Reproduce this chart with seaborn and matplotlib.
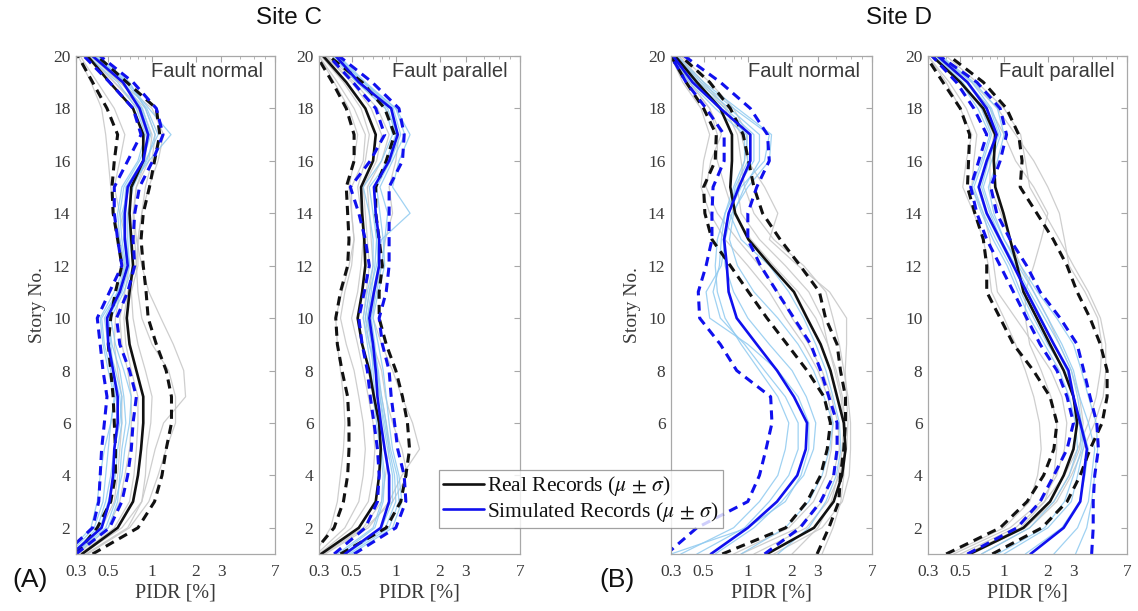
import numpy as np
import pandas as pd
import seaborn as sns
import matplotlib
matplotlib.use("Agg")
import matplotlib.pyplot as plt
from matplotlib.ticker import FixedLocator, FixedFormatter, NullFormatter, LogLocator
from matplotlib.lines import Line2D

# ---------------- data ----------------
STORIES = list(range(1, 21))
X_TICKS = [0.3, 0.5, 1, 2, 3, 7]
X_TICK_LABELS = ["0.3", "0.5", "1", "2", "3", "7"]
Y_TICKS = [2, 4, 6, 8, 10, 12, 14, 16, 18, 20]
SITE_TITLES = ["Site C", "Site D"]
PANEL_TITLES = ["Fault normal", "Fault parallel", "Fault normal", "Fault parallel"]
PANEL_LETTERS = ["(A)", "(B)"]
LEGEND_LABELS = [r"Real Records ($\mu$ $\pm$ $\sigma$)", r"Simulated Records ($\mu$ $\pm$ $\sigma$)"]

# Site C, fault normal (values listed from story 1 to story 20)
c_fn_real_mu = [0.33, 0.58, 0.74, 0.80, 0.84, 0.87, 0.87, 0.78, 0.70, 0.67, 0.70, 0.74, 0.72, 0.70, 0.72, 0.87, 0.87, 0.74, 0.51, 0.36]
c_fn_real_lo = [0.30, 0.42, 0.52, 0.56, 0.56, 0.55, 0.54, 0.52, 0.50, 0.52, 0.56, 0.62, 0.58, 0.54, 0.53, 0.55, 0.58, 0.49, 0.39, 0.31]
c_fn_real_hi = [0.39, 0.80, 1.04, 1.17, 1.25, 1.36, 1.36, 1.25, 1.07, 0.94, 0.91, 0.87, 0.84, 0.87, 0.96, 1.04, 1.13, 1.07, 0.67, 0.42]
c_fn_sim_mu = [0.28, 0.45, 0.51, 0.54, 0.55, 0.58, 0.58, 0.54, 0.50, 0.49, 0.60, 0.68, 0.65, 0.65, 0.68, 0.87, 0.94, 0.82, 0.63, 0.39]
c_fn_sim_lo = [0.25, 0.39, 0.43, 0.44, 0.45, 0.47, 0.49, 0.46, 0.44, 0.42, 0.51, 0.62, 0.58, 0.55, 0.55, 0.68, 0.84, 0.74, 0.51, 0.34]
c_fn_sim_hi = [0.30, 0.51, 0.62, 0.68, 0.72, 0.74, 0.78, 0.70, 0.60, 0.57, 0.68, 0.76, 0.74, 0.76, 0.82, 1.01, 1.19, 1.07, 0.74, 0.44]
c_fn_real_records = [
    [0.33, 0.62, 0.85, 0.95, 1.05, 1.20, 1.70, 1.65, 1.40, 1.15, 0.95, 0.85, 0.78, 0.75, 0.78, 0.95, 1.00, 0.85, 0.55, 0.36],
    [0.36, 0.70, 0.95, 1.10, 1.25, 1.45, 1.45, 1.30, 1.00, 0.85, 0.80, 0.78, 0.80, 0.85, 0.95, 1.10, 1.20, 1.00, 0.60, 0.38],
    [0.31, 0.50, 0.60, 0.65, 0.70, 0.72, 0.72, 0.68, 0.62, 0.60, 0.65, 0.70, 0.66, 0.60, 0.55, 0.60, 0.65, 0.55, 0.42, 0.32],
    [0.32, 0.55, 0.70, 0.75, 0.78, 0.80, 0.80, 0.72, 0.66, 0.64, 0.68, 0.78, 0.76, 0.74, 0.78, 0.90, 0.92, 0.80, 0.55, 0.37],
    [0.30, 0.45, 0.55, 0.58, 0.60, 0.62, 0.62, 0.58, 0.55, 0.56, 0.60, 0.64, 0.60, 0.55, 0.52, 0.50, 0.48, 0.45, 0.38, 0.31],
    [0.35, 0.68, 0.85, 0.90, 0.92, 0.98, 1.00, 0.90, 0.80, 0.74, 0.72, 0.80, 0.80, 0.85, 0.90, 1.00, 1.05, 0.90, 0.60, 0.38],
]
c_fn_sim_records = [
    [0.28, 0.42, 0.48, 0.52, 0.55, 0.60, 0.62, 0.56, 0.50, 0.47, 0.58, 0.70, 0.66, 0.62, 0.70, 0.95, 1.35, 0.95, 0.68, 0.40],
    [0.27, 0.40, 0.46, 0.48, 0.50, 0.52, 0.55, 0.50, 0.46, 0.44, 0.55, 0.65, 0.60, 0.58, 0.62, 0.80, 0.90, 0.78, 0.58, 0.36],
    [0.29, 0.48, 0.56, 0.62, 0.65, 0.70, 0.72, 0.64, 0.56, 0.52, 0.64, 0.74, 0.70, 0.70, 0.72, 0.92, 1.05, 0.90, 0.70, 0.42],
    [0.26, 0.38, 0.42, 0.44, 0.47, 0.52, 0.56, 0.52, 0.47, 0.45, 0.58, 0.66, 0.62, 0.60, 0.64, 0.82, 0.96, 0.84, 0.62, 0.38],
    [0.30, 0.50, 0.58, 0.60, 0.62, 0.66, 0.64, 0.60, 0.53, 0.50, 0.62, 0.70, 0.68, 0.68, 0.74, 0.90, 1.10, 0.92, 0.66, 0.41],
    [0.28, 0.44, 0.50, 0.56, 0.58, 0.62, 0.60, 0.54, 0.52, 0.50, 0.60, 0.68, 0.64, 0.64, 0.66, 0.86, 0.98, 0.86, 0.64, 0.39],
]

# Site C, fault parallel
c_fp_real_mu = [0.31, 0.56, 0.73, 0.77, 0.79, 0.77, 0.71, 0.66, 0.59, 0.55, 0.59, 0.62, 0.61, 0.59, 0.58, 0.70, 0.73, 0.62, 0.46, 0.32]
c_fp_real_lo = [0.27, 0.38, 0.44, 0.47, 0.48, 0.48, 0.47, 0.43, 0.40, 0.39, 0.42, 0.47, 0.48, 0.47, 0.46, 0.52, 0.52, 0.46, 0.37, 0.29]
c_fp_real_hi = [0.42, 0.86, 1.08, 1.17, 1.24, 1.20, 1.11, 1.00, 0.86, 0.77, 0.77, 0.81, 0.77, 0.73, 0.73, 0.86, 0.98, 0.84, 0.59, 0.35]
c_fp_sim_mu = [0.45, 0.79, 0.90, 0.90, 0.84, 0.79, 0.75, 0.73, 0.70, 0.66, 0.71, 0.77, 0.77, 0.73, 0.71, 0.90, 1.03, 0.93, 0.56, 0.39]
c_fp_sim_lo = [0.38, 0.62, 0.75, 0.77, 0.75, 0.71, 0.67, 0.64, 0.59, 0.56, 0.61, 0.66, 0.62, 0.56, 0.49, 0.67, 0.84, 0.73, 0.51, 0.35]
c_fp_sim_hi = [0.52, 1.00, 1.17, 1.14, 1.03, 0.98, 0.93, 0.90, 0.81, 0.77, 0.86, 0.90, 0.90, 0.90, 0.90, 1.11, 1.14, 1.05, 0.69, 0.41]
c_fp_real_records = [
    [0.30, 0.50, 0.65, 0.70, 0.72, 0.70, 0.65, 0.60, 0.55, 0.50, 0.55, 0.58, 0.60, 0.58, 0.55, 0.62, 0.66, 0.58, 0.44, 0.31],
    [0.33, 0.65, 0.90, 1.10, 1.45, 1.30, 1.10, 0.95, 0.80, 0.70, 0.72, 0.80, 0.85, 0.95, 0.90, 1.00, 1.05, 0.85, 0.55, 0.34],
    [0.28, 0.36, 0.40, 0.42, 0.44, 0.45, 0.44, 0.42, 0.40, 0.39, 0.43, 0.48, 0.52, 0.50, 0.48, 0.52, 0.55, 0.48, 0.38, 0.30],
    [0.31, 0.60, 0.80, 0.85, 0.90, 0.86, 0.80, 0.74, 0.66, 0.60, 0.63, 0.66, 0.64, 0.62, 0.60, 0.74, 0.80, 0.68, 0.50, 0.33],
    [0.29, 0.45, 0.56, 0.60, 0.62, 0.60, 0.56, 0.52, 0.46, 0.42, 0.45, 0.50, 0.52, 0.50, 0.50, 0.60, 0.62, 0.52, 0.40, 0.30],
    [0.32, 0.62, 0.95, 1.20, 1.10, 0.95, 0.85, 0.80, 0.70, 0.62, 0.66, 0.70, 0.68, 0.66, 0.64, 0.80, 0.90, 0.75, 0.52, 0.33],
]
c_fp_sim_records = [
    [0.44, 0.80, 0.95, 0.95, 0.88, 0.82, 0.78, 0.75, 0.72, 0.68, 0.74, 0.80, 0.84, 0.88, 0.78, 0.95, 1.15, 1.00, 0.60, 0.40],
    [0.48, 0.90, 1.05, 1.02, 0.92, 0.86, 0.80, 0.76, 0.70, 0.64, 0.70, 0.76, 0.74, 0.70, 0.66, 0.90, 1.00, 0.92, 0.55, 0.38],
    [0.42, 0.72, 0.82, 0.84, 0.80, 0.76, 0.72, 0.70, 0.68, 0.64, 0.68, 0.72, 0.74, 0.72, 0.72, 0.86, 1.00, 0.88, 0.58, 0.39],
    [0.46, 0.85, 1.00, 0.98, 0.90, 0.84, 0.78, 0.72, 0.66, 0.62, 0.66, 0.74, 0.80, 1.25, 0.95, 1.05, 1.25, 1.00, 0.62, 0.41],
    [0.40, 0.70, 0.80, 0.82, 0.78, 0.74, 0.70, 0.68, 0.64, 0.60, 0.64, 0.70, 0.70, 0.66, 0.60, 0.80, 0.95, 0.85, 0.54, 0.37],
    [0.50, 0.95, 1.10, 1.05, 0.95, 0.90, 0.86, 0.82, 0.76, 0.70, 0.76, 0.84, 0.82, 0.78, 0.74, 0.92, 1.08, 0.96, 0.60, 0.40],
]

# Site D, fault normal
d_fn_real_mu = [1.35, 2.82, 3.84, 4.38, 4.62, 4.50, 4.05, 3.65, 3.13, 2.53, 2.06, 1.43, 1.01, 0.82, 0.76, 0.78, 0.78, 0.65, 0.45, 0.32]
d_fn_real_lo = [0.67, 1.81, 2.53, 3.13, 3.47, 3.65, 3.30, 2.53, 1.85, 1.35, 1.01, 0.76, 0.57, 0.51, 0.50, 0.60, 0.61, 0.50, 0.38, 0.30]
d_fn_real_hi = [2.96, 3.56, 4.16, 4.27, 4.50, 4.62, 4.62, 4.27, 4.05, 3.38, 3.07, 2.27, 1.66, 1.26, 1.10, 1.01, 0.93, 0.76, 0.55, 0.35]
d_fn_sim_mu = [0.56, 1.00, 1.58, 2.17, 2.48, 2.53, 2.06, 1.58, 1.15, 0.84, 0.74, 0.72, 0.69, 0.74, 0.87, 1.04, 1.04, 0.65, 0.42, 0.31]
d_fn_sim_lo = [0.28, 0.45, 1.00, 1.20, 1.33, 1.46, 1.43, 0.84, 0.65, 0.47, 0.46, 0.52, 0.57, 0.57, 0.58, 0.69, 0.69, 0.52, 0.38, 0.30]
d_fn_sim_hi = [1.30, 2.27, 3.13, 3.84, 4.05, 4.05, 3.56, 3.13, 2.68, 2.06, 1.58, 1.22, 1.00, 1.00, 1.15, 1.40, 1.36, 1.04, 0.65, 0.37]
d_fn_real_records = [
    [1.50, 3.20, 4.40, 4.90, 5.00, 5.00, 4.80, 4.50, 4.20, 3.80, 3.40, 2.40, 1.50, 1.10, 0.95, 0.90, 0.85, 0.70, 0.48, 0.33],
    [3.20, 3.80, 4.30, 4.50, 4.60, 4.60, 4.40, 4.00, 3.50, 2.90, 2.20, 1.50, 1.05, 0.80, 0.70, 0.62, 0.62, 0.55, 0.40, 0.31],
    [0.90, 2.20, 3.20, 3.80, 4.20, 4.10, 3.70, 3.20, 2.60, 2.00, 1.60, 1.20, 0.85, 0.62, 0.52, 0.56, 0.66, 0.55, 0.40, 0.30],
    [2.00, 3.00, 3.70, 4.10, 4.40, 4.50, 4.30, 3.90, 3.50, 3.20, 2.60, 1.80, 1.20, 0.90, 0.85, 0.95, 1.00, 0.80, 0.55, 0.35],
    [1.10, 2.50, 3.50, 4.20, 4.70, 4.80, 4.70, 4.60, 4.70, 4.70, 3.60, 2.20, 1.40, 1.60, 1.30, 1.00, 0.90, 0.72, 0.50, 0.34],
    [0.80, 1.90, 2.80, 3.40, 3.70, 3.80, 3.50, 3.00, 2.40, 1.80, 1.40, 1.00, 0.70, 0.55, 0.48, 0.50, 0.55, 0.48, 0.36, 0.30],
]
d_fn_sim_records = [
    [0.60, 1.10, 1.70, 2.40, 2.80, 2.90, 2.50, 2.00, 1.40, 1.00, 0.80, 0.70, 0.68, 0.74, 0.90, 1.30, 1.40, 0.80, 0.48, 0.32],
    [0.35, 0.80, 1.20, 1.60, 1.80, 1.90, 1.60, 1.20, 0.90, 0.70, 0.62, 0.60, 0.62, 0.70, 0.85, 1.10, 1.10, 0.70, 0.44, 0.31],
    [0.90, 1.80, 2.60, 3.20, 3.60, 3.80, 3.30, 2.80, 2.20, 1.60, 1.10, 0.85, 0.75, 0.80, 0.95, 1.20, 1.20, 0.75, 0.46, 0.32],
    [0.45, 0.95, 1.40, 1.90, 2.20, 2.20, 1.80, 1.30, 0.95, 0.65, 0.58, 0.64, 0.66, 0.70, 0.80, 0.95, 0.95, 0.60, 0.40, 0.30],
    [1.60, 2.60, 3.40, 4.00, 4.30, 4.20, 3.80, 3.40, 2.90, 2.40, 1.90, 1.40, 0.90, 0.75, 0.82, 1.00, 0.98, 0.66, 0.43, 0.31],
    [0.30, 1.00, 1.80, 2.30, 2.60, 2.60, 2.20, 1.60, 1.00, 0.55, 0.52, 0.66, 0.70, 0.78, 1.00, 1.40, 1.45, 0.85, 0.50, 0.33],
]

# Site D, fault parallel
d_fp_real_mu = [0.58, 1.36, 2.07, 2.57, 3.00, 3.18, 3.00, 2.57, 2.07, 1.68, 1.36, 1.23, 1.10, 0.99, 0.87, 0.85, 0.87, 0.72, 0.50, 0.32]
d_fp_real_lo = [0.40, 0.94, 1.44, 1.87, 2.20, 2.31, 2.07, 1.59, 1.16, 0.94, 0.76, 0.76, 0.72, 0.63, 0.56, 0.57, 0.58, 0.50, 0.38, 0.29]
d_fp_real_hi = [0.83, 1.82, 2.71, 3.34, 3.90, 4.72, 5.11, 5.11, 4.59, 3.90, 3.18, 2.71, 2.18, 1.68, 1.29, 1.33, 1.26, 1.04, 0.72, 0.42]
d_fp_sim_mu = [1.52, 2.57, 3.34, 3.53, 3.71, 3.34, 3.00, 2.77, 2.20, 1.77, 1.43, 1.16, 0.94, 0.76, 0.67, 0.76, 0.89, 0.76, 0.56, 0.35]
d_fp_sim_lo = [0.56, 1.23, 1.77, 2.20, 2.71, 3.00, 2.71, 2.31, 1.77, 1.43, 1.16, 0.94, 0.76, 0.65, 0.59, 0.67, 0.76, 0.62, 0.47, 0.32]
d_fp_sim_hi = [4.00, 4.10, 4.10, 4.20, 4.45, 4.34, 3.90, 3.53, 3.18, 2.43, 1.77, 1.43, 1.10, 0.89, 0.81, 0.94, 1.04, 0.94, 0.65, 0.36]
d_fp_real_records = [
    [0.45, 1.10, 1.80, 2.30, 2.60, 2.70, 2.50, 2.10, 1.60, 1.20, 0.90, 0.85, 0.80, 0.72, 0.60, 0.62, 0.65, 0.55, 0.42, 0.30],
    [0.70, 1.50, 2.30, 2.90, 3.50, 4.20, 4.80, 5.00, 5.00, 4.60, 3.80, 3.00, 2.40, 1.90, 1.50, 1.40, 1.30, 1.00, 0.65, 0.40],
    [0.55, 1.30, 1.90, 2.20, 2.30, 2.30, 2.10, 1.80, 1.50, 1.40, 1.40, 1.60, 1.80, 2.00, 1.60, 1.20, 1.00, 0.80, 0.55, 0.34],
    [0.60, 1.40, 2.20, 2.80, 3.30, 3.50, 3.30, 2.90, 2.40, 2.00, 1.60, 1.30, 1.10, 0.95, 0.80, 0.80, 0.85, 0.70, 0.50, 0.33],
    [0.50, 1.20, 1.90, 2.60, 3.20, 3.80, 4.30, 4.60, 4.70, 4.40, 3.60, 2.80, 2.60, 2.40, 2.00, 1.60, 1.20, 0.90, 0.60, 0.36],
    [0.42, 1.00, 1.50, 1.70, 1.80, 1.75, 1.60, 1.40, 1.20, 1.00, 0.82, 0.78, 0.72, 0.62, 0.52, 0.55, 0.60, 0.50, 0.40, 0.30],
]
d_fp_sim_records = [
    [1.40, 2.50, 3.30, 3.60, 3.80, 3.40, 3.00, 2.70, 2.20, 1.80, 1.45, 1.15, 0.92, 0.75, 0.66, 0.75, 0.88, 0.75, 0.55, 0.35],
    [3.10, 3.70, 4.00, 4.20, 4.40, 4.30, 3.80, 3.40, 3.00, 2.30, 1.70, 1.30, 1.00, 0.85, 0.78, 0.90, 1.00, 0.90, 0.62, 0.37],
    [0.90, 1.90, 2.60, 3.00, 3.40, 3.30, 3.00, 2.60, 2.00, 1.60, 1.30, 1.10, 0.88, 0.72, 0.62, 0.72, 0.82, 0.70, 0.52, 0.34],
    [0.70, 1.50, 2.20, 2.80, 3.20, 3.10, 2.80, 2.40, 1.90, 1.50, 1.25, 1.05, 0.84, 0.70, 0.60, 0.70, 0.80, 0.66, 0.50, 0.33],
    [2.20, 3.20, 3.80, 4.00, 4.20, 3.80, 3.30, 3.00, 2.50, 2.00, 1.60, 1.25, 1.00, 0.82, 0.72, 0.82, 0.95, 0.82, 0.60, 0.36],
    [1.00, 2.00, 2.90, 3.20, 3.50, 3.40, 3.20, 2.90, 2.40, 1.90, 1.50, 1.20, 0.95, 0.80, 0.70, 0.78, 0.92, 0.80, 0.56, 0.35],
]

PANELS = [
    dict(real_rec=c_fn_real_records, sim_rec=c_fn_sim_records, real=(c_fn_real_mu, c_fn_real_lo, c_fn_real_hi), sim=(c_fn_sim_mu, c_fn_sim_lo, c_fn_sim_hi)),
    dict(real_rec=c_fp_real_records, sim_rec=c_fp_sim_records, real=(c_fp_real_mu, c_fp_real_lo, c_fp_real_hi), sim=(c_fp_sim_mu, c_fp_sim_lo, c_fp_sim_hi)),
    dict(real_rec=d_fn_real_records, sim_rec=d_fn_sim_records, real=(d_fn_real_mu, d_fn_real_lo, d_fn_real_hi), sim=(d_fn_sim_mu, d_fn_sim_lo, d_fn_sim_hi)),
    dict(real_rec=d_fp_real_records, sim_rec=d_fp_sim_records, real=(d_fp_real_mu, d_fp_real_lo, d_fp_real_hi), sim=(d_fp_sim_mu, d_fp_sim_lo, d_fp_sim_hi)),
]

# ---------------- style ----------------
sns.set_style("white")
plt.rcParams["font.family"] = ["Liberation Serif", "DejaVu Serif"]
plt.rcParams["mathtext.fontset"] = "stix"

W, H = 1138, 611
fig = plt.figure(figsize=(W / 100, H / 100), dpi=100)

GREY = "#c9c9c9"
LIGHTBLUE = "#8fcaf0"
BLUE = "#1010ee"
BLACK = "#111111"
FRAME = "#a8a8a8"
TEXT = "#3a3a3a"
DASH = (0, (3.0, 2.0))
SANS = ["Liberation Sans", "DejaVu Sans"]

panel_px = [(76, 275), (319, 520), (671, 872), (928, 1127)]
top_px, bot_px = 56, 554


def draw(ax, vals, **kw):
    sns.lineplot(x=vals, y=STORIES, sort=False, estimator=None, ax=ax, legend=False, **kw)


axes = []
for i, (pdat, (x0, x1)) in enumerate(zip(PANELS, panel_px)):
    ax = fig.add_axes([x0 / W, 1 - bot_px / H, (x1 - x0) / W, (bot_px - top_px) / H])
    axes.append(ax)
    ax.set_xscale("log")
    for rec in pdat["real_rec"]:
        draw(ax, rec, color=GREY, lw=0.9, alpha=0.9)
    for rec in pdat["sim_rec"]:
        draw(ax, rec, color=LIGHTBLUE, lw=0.9, alpha=0.85)
    mu, lo, hi = pdat["real"]
    draw(ax, mu, color=BLACK, lw=1.9)
    draw(ax, lo, color=BLACK, lw=2.2, linestyle=DASH)
    draw(ax, hi, color=BLACK, lw=2.2, linestyle=DASH)
    mu, lo, hi = pdat["sim"]
    draw(ax, mu, color=BLUE, lw=1.9)
    draw(ax, lo, color=BLUE, lw=2.2, linestyle=DASH)
    draw(ax, hi, color=BLUE, lw=2.2, linestyle=DASH)

    ax.set_xlim(0.3, 7)
    ax.set_ylim(1, 20)
    ax.xaxis.set_major_locator(FixedLocator(X_TICKS))
    ax.xaxis.set_major_formatter(FixedFormatter(X_TICK_LABELS))
    ax.xaxis.set_minor_locator(LogLocator(base=10, subs=np.arange(2, 10) * 1.0))
    ax.xaxis.set_minor_formatter(NullFormatter())
    ax.set_yticks(Y_TICKS)
    # in the reference the legend box hides the lowest labels of panel (B) left axis
    ylabels = [("" if (i == 2 and v <= 4) else str(v)) for v in Y_TICKS]
    ax.set_yticklabels(ylabels)
    ax.tick_params(which="both", direction="in", top=True, right=True, colors=FRAME,
                   labelcolor=TEXT, labelsize=12.5)
    ax.tick_params(axis="x", which="major", pad=7)
    ax.tick_params(axis="y", which="major", pad=4)
    ax.tick_params(which="major", length=4, width=0.8)
    ax.tick_params(which="minor", length=2, width=0.6)
    for s in ax.spines.values():
        s.set_color(FRAME)
        s.set_linewidth(0.9)
    ax.set_xlabel("PIDR [%]", fontsize=14.5, color=TEXT, labelpad=3)
    if i in (0, 2):
        ax.set_ylabel("Story No.", fontsize=14, color=TEXT, labelpad=5)
    else:
        ax.set_ylabel("")
    ax.text(0.94, 0.988, PANEL_TITLES[i], transform=ax.transAxes, ha="right", va="top",
            fontsize=14.5, color=TEXT, family=SANS)

# site titles
fig.text(289 / W, 1 - 18 / H, SITE_TITLES[0], ha="center", va="center", fontsize=17.5,
         family=SANS, color="#111111")
fig.text(899 / W, 1 - 18 / H, SITE_TITLES[1], ha="center", va="center", fontsize=17.5,
         family=SANS, color="#111111")
# panel letters
fig.text(30 / W, 1 - 580 / H, PANEL_LETTERS[0], ha="center", va="center", fontsize=19,
         family=SANS, color="#111111")
fig.text(617 / W, 1 - 580 / H, PANEL_LETTERS[1], ha="center", va="center", fontsize=19,
         family=SANS, color="#111111")

# legend
handles = [Line2D([], [], color=BLACK, lw=1.9), Line2D([], [], color=BLUE, lw=1.9)]
leg = fig.legend(handles, LEGEND_LABELS, loc="center", bbox_to_anchor=(581 / W, 1 - 499 / H),
                 fontsize=15.5, frameon=True, fancybox=False, handlelength=1.9, handletextpad=0.15,
                 borderpad=0.2, labelspacing=0.05, borderaxespad=0)
leg.get_frame().set_edgecolor("#8a8a8a")
leg.get_frame().set_linewidth(0.9)
for t in leg.get_texts():
    t.set_color("#111111")

fig.savefig("out.png", dpi=100)
